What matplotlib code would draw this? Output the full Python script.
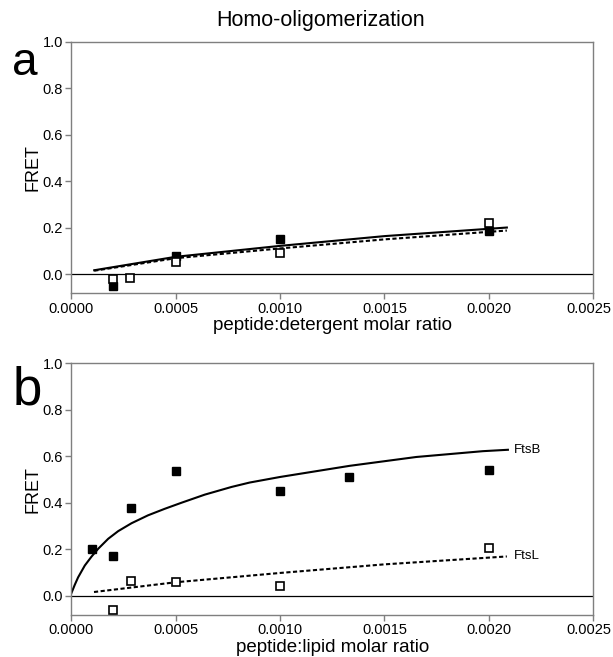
import matplotlib
matplotlib.use("Agg")
import matplotlib.pyplot as plt
import matplotlib.transforms as mtransforms

plt.rcParams['font.family'] = ['Liberation Sans', 'DejaVu Sans']

# ---- Panel a data (peptide:detergent) ----
a_x_filled = [0.0002, 0.0005, 0.0010, 0.0020]
a_y_filled = [-0.050, 0.078, 0.152, 0.185]
a_x_open = [0.0002, 0.00028, 0.0005, 0.0010, 0.0020]
a_y_open = [-0.022, -0.017, 0.053, 0.092, 0.221]
# fitted curves
a_fit_x = [0.000109, 0.0005, 0.0010, 0.0015, 0.002087]
a_fit_solid = [0.017, 0.075, 0.122, 0.164, 0.201]
a_fit_dashed = [0.015, 0.069, 0.111, 0.150, 0.188]

# ---- Panel b data (peptide:lipid) ----
b_x_filled = [0.0001, 0.0002, 0.000284, 0.0005, 0.0010, 0.00133, 0.0020]
b_y_filled = [0.203, 0.171, 0.377, 0.536, 0.449, 0.510, 0.541]
b_x_open = [0.0002, 0.000284, 0.0005, 0.0010, 0.0020]
b_y_open = [-0.060, 0.063, 0.060, 0.043, 0.205]
# FtsB fit curve
b_ftsb_x = [0.0, 0.0000158, 0.0000317, 0.0000639, 0.0000958,
            0.000128, 0.000176, 0.000224, 0.000288, 0.000367, 0.000447,
            0.000527, 0.000639, 0.000767, 0.000854, 0.0010, 0.001334,
            0.001653, 0.001972, 0.002092]
b_ftsb_y = [0.012, 0.047, 0.079, 0.130, 0.168,
            0.202, 0.245, 0.278, 0.312, 0.346, 0.374,
            0.400, 0.435, 0.468, 0.487, 0.511, 0.559,
            0.597, 0.622, 0.628]
# FtsL fit curve
b_ftsl_x = [0.000108, 0.0005, 0.0010, 0.0015, 0.002087]
b_ftsl_y = [0.016, 0.058, 0.098, 0.135, 0.169]

x_ticks = [0.0, 0.0005, 0.0010, 0.0015, 0.0020, 0.0025]
x_ticklabels = ["0.0000", "0.0005", "0.0010", "0.0015", "0.0020", "0.0025"]
y_ticks = [0.0, 0.2, 0.4, 0.6, 0.8, 1.0]
y_ticklabels = ["0.0", "0.2", "0.4", "0.6", "0.8", "1.0"]

fig = plt.figure(figsize=(6.13, 6.57), dpi=100)
ax_a = fig.add_axes([0.1166, 0.5533, 0.8508, 0.3828])
ax_b = fig.add_axes([0.1166, 0.0639, 0.8508, 0.3831])

gray = '#7f7f7f'
dash = (0, (2.0, 1.2))

def style(ax, xlabel):
    ax.set_xlim(0, 0.0025)
    ax.set_ylim(-0.083, 1.0)
    ax.set_xticks(x_ticks)
    ax.set_xticklabels(x_ticklabels)
    ax.set_yticks(y_ticks)
    ax.set_yticklabels(y_ticklabels)
    for s in ax.spines.values():
        s.set_color(gray)
        s.set_linewidth(1.0)
    ax.tick_params(direction='out', length=4, width=1.0, color=gray,
                   labelsize=10.5, pad=2)
    ax.axhline(0, color='black', lw=0.9, zorder=1)
    ax.set_xlabel(xlabel, fontsize=13.5, labelpad=1)
    ax.set_ylabel("FRET", fontsize=13, labelpad=1)
    # keep the last x tick label inside the figure
    last = ax.get_xticklabels()[-1]
    shift = mtransforms.ScaledTranslation(-4 / 100, 0, fig.dpi_scale_trans)
    last.set_transform(last.get_transform() + shift)

style(ax_a, "peptide:detergent molar ratio")
style(ax_b, "peptide:lipid molar ratio")

mk = dict(ls='none', marker='s')

# panel a
ax_a.plot(a_fit_x, a_fit_solid, color='black', lw=1.5, zorder=2)
ax_a.plot(a_fit_x, a_fit_dashed, color='black', lw=1.5, ls=dash, zorder=2)
ax_a.plot(a_x_filled, a_y_filled, ms=5.6, mfc='black', mec='black', zorder=3, **mk)
ax_a.plot(a_x_open, a_y_open, ms=5.3, mfc='white', mec='black', mew=1.2, zorder=4, **mk)

# panel b
ax_b.plot(b_ftsb_x, b_ftsb_y, color='black', lw=1.5, zorder=2)
ax_b.plot(b_ftsl_x, b_ftsl_y, color='black', lw=1.5, ls=dash, zorder=2)
ax_b.plot(b_x_filled, b_y_filled, ms=5.6, mfc='black', mec='black', zorder=3, **mk)
ax_b.plot(b_x_open, b_y_open, ms=5.3, mfc='white', mec='black', mew=1.2, zorder=4, **mk)
ax_b.text(0.00212, b_ftsb_y[-1], "FtsB", fontsize=9.5, va='center', ha='left')
ax_b.text(0.00212, b_ftsl_y[-1], "FtsL", fontsize=9.5, va='center', ha='left')

fig.text(0.523, 0.9604, "Homo-oligomerization", fontsize=15.5, ha='center', va='baseline')
fig.text(0.02, 0.886, "a", fontsize=33, ha='left', va='baseline')
fig.text(0.02, 0.3836, "b", fontsize=38, ha='left', va='baseline')

fig.savefig("out.png", dpi=100)
